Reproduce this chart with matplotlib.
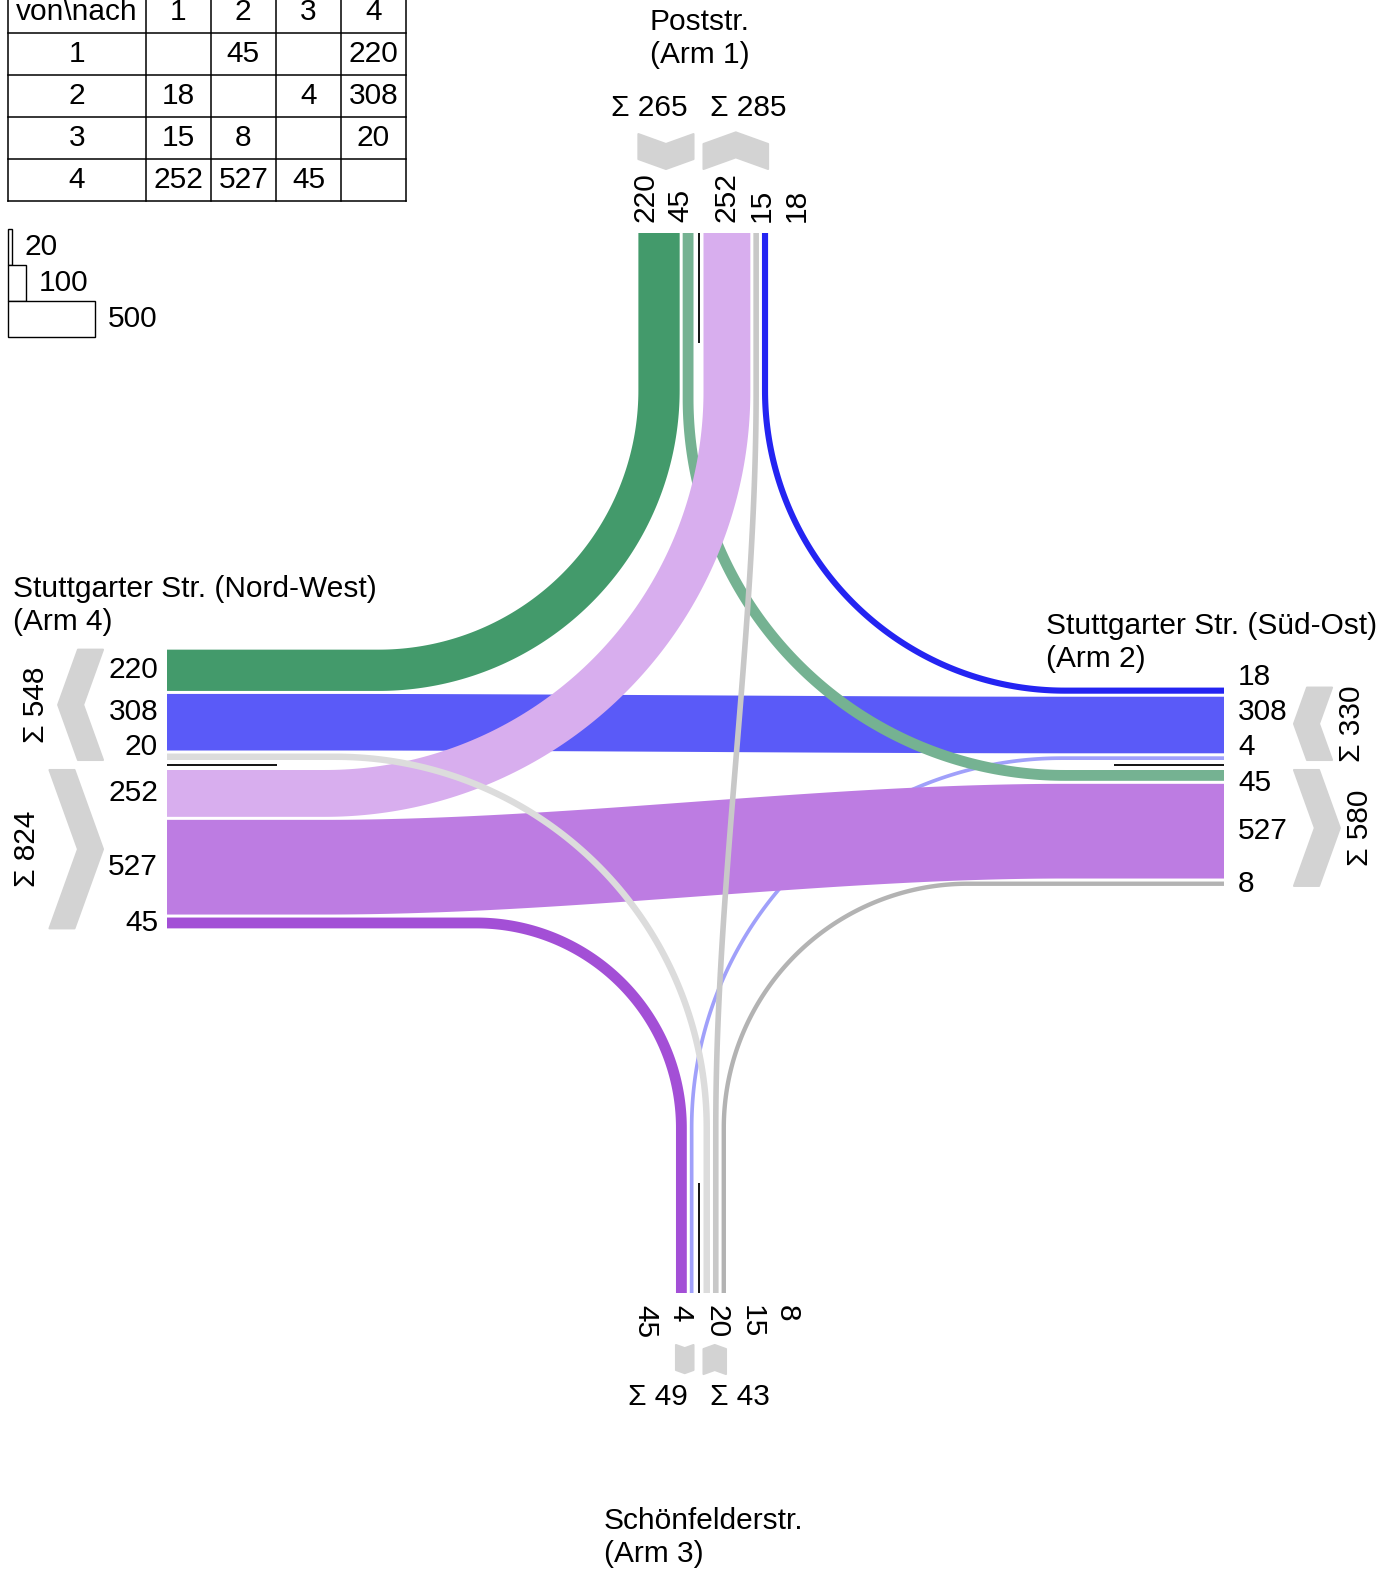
import numpy as np
import matplotlib
matplotlib.use("Agg")
import matplotlib.pyplot as plt
from matplotlib.patches import Polygon, Rectangle

plt.rcParams['font.family'] = ['Liberation Sans', 'DejaVu Sans']
FS = 21.5

# Knotenstrom: von (Zeile) nach (Spalte), Arme 1..4
arm_ids = [1, 2, 3, 4]
od = [[0, 45, 0, 220],
      [18, 0, 4, 308],
      [15, 8, 0, 20],
      [252, 527, 45, 0]]
arm_names = ["Poststr.", "Stuttgarter Str. (Süd-Ost)",
             "Schönfelderstr.", "Stuttgarter Str. (Nord-West)"]
legend_vals = [20, 100, 500]

# colour of each stream (von, nach)
colors = {(1, 2): '#75b292', (1, 4): '#439a6b',
          (2, 1): '#2424f2', (2, 3): '#a0a0fa', (2, 4): '#5a5af8',
          (3, 1): '#c8c8c8', (3, 2): '#b3b3b3', (3, 4): '#dcdcdc',
          (4, 1): '#d8aeee', (4, 2): '#bd7ce2', (4, 3): '#a34fd6'}
CHEV_COL = '#d3d3d3'

# ---- layout in pixels (y pointing down)
W, H = 1398, 1575
SCALE = 0.174      # px per vehicle
PAD = 3.0
GAP = 3.0
CGAP = 5.0
END = {1: (698.5, 233), 2: (1224, 765), 3: (698.5, 1293), 4: (167, 765)}
HEAD = {1: (0, 1), 2: (-1, 0), 3: (0, -1), 4: (1, 0)}
ZONE = {1: 157, 2: 159, 3: 165, 4: 158}
CHEV = {1: 64, 2: 70, 3: 52, 4: 64}
CHEV_T = 25
LGAP = {1: 11, 2: 14, 3: 12, 4: 9}
LMIN, LSEP = 18, 35
SGAP = {1: 10, 2: 6, 3: 9, 4: 8}


def nxt(a, k):
    return (a - 1 + k) % 4 + 1


def vec(a):
    h = np.array(HEAD[a], float)
    return np.array(END[a], float), h, np.array([-h[1], h[0]])


def pt(a, s, l):
    e, h, r = vec(a)
    return e + h * s + r * l


def width(v):
    return v * SCALE + PAD


def vol(f):
    return od[f[0] - 1][f[1] - 1]


# lateral offsets of every band on every arm
lane = {}
for a in arm_ids:
    pos = CGAP
    for k in (1, 2, 3):
        b = nxt(a, k)
        if od[a - 1][b - 1]:
            w = width(od[a - 1][b - 1])
            lane[(a, (a, b))] = pos + w / 2
            pos += w + GAP
    pos = CGAP
    for k in (3, 2, 1):
        s = nxt(a, k)
        if od[s - 1][a - 1]:
            w = width(od[s - 1][a - 1])
            lane[(a, (s, a))] = -(pos + w / 2)
            pos += w + GAP


def seg(p, q, n=30):
    t = np.linspace(0, 1, n)[:, None]
    return p + (q - p) * t


def flow_path(a, b):
    la, lb = lane[(a, (a, b))], lane[(b, (a, b))]
    _, ha, _ = vec(a)
    _, hb, _ = vec(b)
    p0, p3 = pt(a, 0, la), pt(b, 0, lb)
    za, zb = pt(a, ZONE[a], la), pt(b, ZONE[b], lb)
    if b == nxt(a, 2):
        L = np.dot(zb - za, ha)
        t = np.linspace(0, 1, 100)[:, None]
        c1, c2 = za + ha * L / 3, zb + hb * L / 3
        mid = (1 - t)**3 * za + 3 * (1 - t)**2 * t * c1 + 3 * (1 - t) * t**2 * c2 + t**3 * zb
        return np.vstack([seg(p0, za)[:-1], mid, seg(zb, p3)[1:]])
    s, u = np.linalg.solve(np.column_stack([ha, -hb]), zb - za)
    c = za + ha * s
    rad = min(s, u)
    pa, pb = c - ha * rad, c - hb * rad
    o = c - ha * rad - hb * rad
    th = np.linspace(0, np.pi / 2, 120)[:, None]
    arc = o + rad * (np.cos(th) * hb + np.sin(th) * ha)
    return np.vstack([seg(p0, pa)[:-1], arc, seg(pb, p3)[1:]])


def band(pts, w):
    d = np.gradient(pts, axis=0)
    d /= np.linalg.norm(d, axis=1)[:, None]
    n = np.column_stack([-d[:, 1], d[:, 0]])
    return np.vstack([pts + n * w / 2, (pts - n * w / 2)[::-1]])


fig = plt.figure(figsize=(W / 100, H / 100), dpi=100)
ax = fig.add_axes([0, 0, 1, 1])
ax.set_xlim(0, W)
ax.set_ylim(H, 0)
ax.axis('off')

# streams
for a in [2, 1, 4, 3]:
    for k in (1, 2, 3):
        b = nxt(a, k)
        v = od[a - 1][b - 1]
        if v:
            poly = band(flow_path(a, b), width(v))
            ax.add_patch(Polygon(poly, closed=True, fc=colors[(a, b)], ec='none'))

# centre lines
for a in arm_ids:
    p, q = pt(a, 0, 0), pt(a, 110, 0)
    ax.plot([p[0], q[0]], [p[1], q[1]], color='black', lw=1.3, solid_capstyle='butt')

LAB = {1: dict(rotation=90, ha='center', va='bottom'),
       2: dict(rotation=0, ha='left', va='center'),
       3: dict(rotation=270, ha='center', va='top'),
       4: dict(rotation=0, ha='right', va='center')}

far = {}
for a in arm_ids:
    for sign in (1, -1):
        items = sorted((abs(l), f) for (arm, f), l in lane.items()
                       if arm == a and np.sign(l) == sign)
        if not items:
            continue
        # band labels, pushed apart
        prev = -1e9
        for l, f in items:
            p = max(l, LMIN, prev + LSEP)
            prev = p
            x, y = pt(a, -LGAP[a], sign * p)
            ax.text(x, y, str(vol(f)), fontsize=FS, **LAB[a])
        # chevron
        lo = CGAP
        hi = max(l + width(vol(f)) / 2 for l, f in items)
        mid = (lo + hi) / 2
        d = 0.36 * (hi - lo) / 2
        n, t = CHEV[a], CHEV_T
        if sign == 1:   # towards the junction
            loc = [(n + d, lo), (n, mid), (n + d, hi), (n + d + t, hi), (n + t, mid), (n + d + t, lo)]
        else:
            loc = [(n, lo), (n + d, mid), (n, hi), (n + t, hi), (n + t + d, mid), (n + t, lo)]
        ax.add_patch(Polygon([pt(a, -s, sign * l) for s, l in loc], closed=True,
                             fc=CHEV_COL, ec=CHEV_COL, lw=1.5, joinstyle='round'))
        far[(a, sign)] = (n + t + d, mid, sum(vol(f) for _, f in items))

# sum labels
for a in arm_ids:
    sfar = max(far[(a, s)][0] for s in (1, -1))
    cx = pt(a, 0, 0)
    for sign in (1, -1):
        s_f, mid, tot = far[(a, sign)]
        txt = "Σ %d" % tot
        if a in (1, 3):
            x, y = pt(a, -(sfar + SGAP[a]), sign * 11)
            ax.text(x, y, txt, fontsize=FS, ha='right' if x < cx[0] else 'left',
                    va='bottom' if a == 1 else 'top')
        else:
            x, y = pt(a, -(s_f + SGAP[a]), sign * mid)
            ax.text(x, y, txt, fontsize=FS, rotation=90, va='center',
                    ha='left' if a == 2 else 'right')

# arm titles (two lines each)
title_pos = {1: (650, 22), 2: (1046, 626), 3: (604, 1521), 4: (13, 589)}
for a in arm_ids:
    x, y = title_pos[a]
    ax.text(x, y, arm_names[a - 1], fontsize=FS, ha='left', va='center')
    ax.text(x, y + 33, "(Arm %d)" % a, fontsize=FS, ha='left', va='center')

# OD table
col_x = [8, 145.5, 210.5, 276, 341, 406]
row_y = [-9, 33, 75, 117, 159, 201]
for y in row_y:
    ax.plot([col_x[0], col_x[-1]], [y, y], color='black', lw=1.1)
for x in col_x:
    ax.plot([x, x], [row_y[0], row_y[-1]], color='black', lw=1.1)


def cell(i, j, s):
    ax.text((col_x[j] + col_x[j + 1]) / 2, (row_y[i] + row_y[i + 1]) / 2, s,
            fontsize=FS, ha='center', va='center')


cell(0, 0, "von\\nach")
for k in arm_ids:
    cell(0, k, str(k))
    cell(k, 0, str(k))
for i in arm_ids:
    for j in arm_ids:
        if od[i - 1][j - 1]:
            cell(i, j, str(od[i - 1][j - 1]))

# scale legend
ly = 229
for v in legend_vals:
    w = v * SCALE
    ax.add_patch(Rectangle((8.3, ly), w, 36, fc='white', ec='black', lw=1.0))
    ax.text(8.3 + w + 13, ly + 18, str(v), fontsize=FS, ha='left', va='center')
    ly += 36

fig.savefig("out.png", dpi=100)
